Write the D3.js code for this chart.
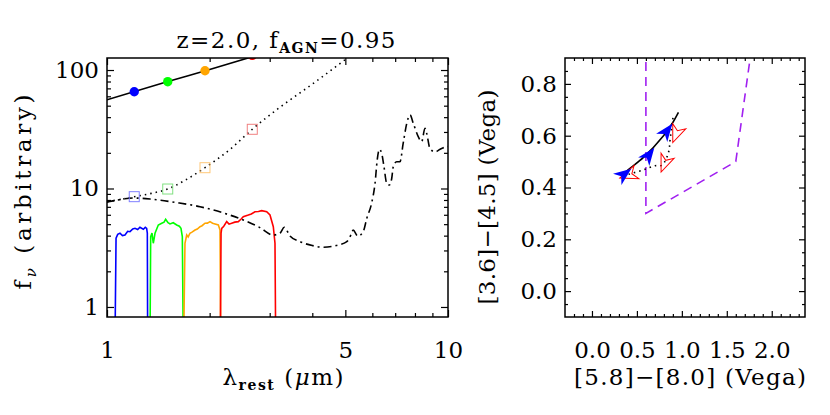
<!DOCTYPE html>
<html>
<head>
<meta charset="utf-8">
<script src="https://cdn.jsdelivr.net/npm/d3@7"></script>
<style>
  body { margin: 0; background: #fff; }
  text { font-family: "DejaVu Serif", serif; fill: #000; }
</style>
</head>
<body>
<svg id="chart" width="830" height="415"></svg>
<script>
// ---- left panel: SED in the rest frame ----
const bandWave = [1.202, 1.507, 1.938, 2.667];
const bandColors = ["#0000ff", "#00ff00", "#ffa500", "#ff0000"];
const squareColors = ["#8080ff", "#80e080", "#ffc878", "#f08080"];
const solidBandFlux = [65.6, 79.7, 98.6, 133];
const dottedBandFlux = [8.53, 9.9, 14.98, 31.6];

const solidSED = [[1.0, 56], [1.5, 79.5], [2.0, 101], [2.8, 135]];
const dottedSED = [[1.0, 7.7], [1.1, 8.1], [1.202, 8.53], [1.35, 9.1], [1.507, 9.9], [1.7, 11.8],
  [1.938, 14.98], [2.3, 21.5], [2.667, 31.6], [3.2, 48], [4.0, 76], [5.1, 128]];
const dashDotSED = [[1.0, 7.69], [1.1, 8.1], [1.192, 8.31], [1.337, 8.15], [1.6, 7.6], [1.874, 7.02],
  [2.2, 6.2], [2.51, 5.42], [2.8, 4.7], [3.07, 4.05], [3.22, 4.21], [3.31, 4.71], [3.44, 3.97],
  [3.68, 3.56], [4.0, 3.3], [4.31, 3.19], [4.7, 3.3], [5.05, 3.56], [5.2, 4.1], [5.27, 4.46],
  [5.44, 3.97], [5.64, 4.32], [5.78, 5.61], [5.97, 7.5], [6.11, 11.07], [6.2, 17.4], [6.29, 21.4],
  [6.39, 19.8], [6.49, 15.3], [6.61, 11.07], [6.73, 10.7], [6.84, 12.2], [6.91, 15.3], [7.07, 16.8],
  [7.23, 16.8], [7.39, 24.1], [7.57, 35.5], [7.74, 41.7], [7.91, 35.5], [8.18, 27.4], [8.37, 24.8],
  [8.56, 32.2], [8.66, 29.2], [8.85, 21.8], [9.16, 20.4], [9.58, 21.8], [10.0, 22.6]];

const filterBlue = [[1.0555, 0.5], [1.063, 3.8], [1.075, 4.1], [1.0917, 4.19], [1.11, 4.0], [1.129, 4.05],
  [1.15, 4.35], [1.168, 4.32], [1.19, 4.55], [1.208, 4.61], [1.23, 4.5], [1.249, 4.71],
  [1.278, 4.53], [1.295, 4.7], [1.307, 4.61], [1.313, 4.2], [1.316, 0.5]];
const filterGreen = [[1.337, 0.5], [1.343, 3.92], [1.355, 4.2], [1.367, 3.45], [1.383, 4.19],
  [1.414, 4.92], [1.447, 5.09], [1.47, 5.2], [1.486, 5.5], [1.51, 5.15], [1.530, 5.02],
  [1.564, 5.14], [1.601, 4.92], [1.63, 4.8], [1.648, 4.61], [1.663, 3.92], [1.674, 0.5]];
const filterOrange = [[1.678, 0.5], [1.693, 3.45], [1.713, 4.05], [1.73, 3.9], [1.751, 4.19],
  [1.78, 4.3], [1.812, 4.46], [1.84, 4.55], [1.874, 4.76], [1.9, 4.85], [1.938, 5.09],
  [1.97, 5.1], [2.005, 5.25], [2.04, 5.1], [2.074, 5.02], [2.121, 4.92], [2.145, 4.46], [2.155, 0.5]];
const filterRed = [[2.150, 0.5], [2.160, 4.2], [2.170, 4.61], [2.2, 4.8], [2.244, 5.25], [2.28, 5.0],
  [2.321, 5.09], [2.37, 5.2], [2.427, 5.25], [2.47, 5.5], [2.510, 5.78], [2.597, 5.97],
  [2.65, 6.1], [2.716, 6.37], [2.78, 6.4], [2.842, 6.50], [2.940, 6.37], [3.006, 5.97],
  [3.074, 4.76], [3.109, 3.45], [3.124, 0.5]];
const filters = [filterBlue, filterGreen, filterOrange, filterRed];

const leftXTicks = [1, 5, 10];
const leftXMinor = [2, 3, 4, 6, 7, 8, 9];
const leftYTicks = [1, 10, 100];
const leftYMinor = [2, 3, 4, 5, 6, 7, 8, 9, 20, 30, 40, 50, 60, 70, 80, 90];

// ---- right panel: colour-colour tracks ----
const wedge = [[0.6, 1.0], [0.6, 0.3], [1.6, 0.5], [2.0, 1.5]];
const solidTrack = [[0.33, 0.440], [0.37, 0.458], [0.573, 0.516], [0.796, 0.600], [0.889, 0.645], [0.962, 0.690]];
const solidArrows = [[0.34, 0.447], [0.62, 0.52], [0.82, 0.612]];
const dottedTrack = [[0.407, 0.451], [0.573, 0.468], [0.703, 0.484], [0.778, 0.486], [0.851, 0.535],
  [0.87, 0.587], [0.907, 0.684]];
const dottedArrows = [[0.426, 0.451], [0.814, 0.499], [0.944, 0.613]];

const rightXTicks = [0, 0.5, 1.0, 1.5, 2.0];
const rightYTicks = [0, 0.2, 0.4, 0.6, 0.8];

const svg = d3.select("#chart");
const fs = 23;

// scales
const xL = d3.scaleLog().domain([1, 10]).range([107, 448]);
const yL = d3.scaleLog().domain([0.823, 126.3]).range([317, 58]);
const xR = d3.scaleLinear().domain([-0.3, 2.37]).range([565, 805]);
const yR = d3.scaleLinear().domain([-0.1, 0.9]).range([317, 58]);

const defs = svg.append("defs");
defs.append("clipPath").attr("id", "clipL").append("rect")
  .attr("x", 107).attr("y", 58).attr("width", 341).attr("height", 259);
defs.append("clipPath").attr("id", "clipR").append("rect")
  .attr("x", 565).attr("y", 58).attr("width", 240).attr("height", 259);

function tickAxes(x, y, xMaj, xMin, yMaj, yMin, majLen, minLen, xFmt, yFmt) {
  const [x0, x1] = x.range();
  const [y0, y1] = y.range();
  const groups = [
    [d3.axisBottom(x).tickValues(xMaj).tickSize(-majLen).tickPadding(25).tickFormat(xFmt), `translate(0,${y0})`],
    [d3.axisBottom(x).tickValues(xMin).tickSize(-minLen).tickFormat(""), `translate(0,${y0})`],
    [d3.axisTop(x).tickValues(xMaj).tickSize(-majLen).tickFormat(""), `translate(0,${y1})`],
    [d3.axisTop(x).tickValues(xMin).tickSize(-minLen).tickFormat(""), `translate(0,${y1})`],
    [d3.axisLeft(y).tickValues(yMaj).tickSize(-majLen).tickPadding(8).tickFormat(yFmt), `translate(${x0},0)`],
    [d3.axisLeft(y).tickValues(yMin).tickSize(-minLen).tickFormat(""), `translate(${x0},0)`],
    [d3.axisRight(y).tickValues(yMaj).tickSize(-majLen).tickFormat(""), `translate(${x1},0)`],
    [d3.axisRight(y).tickValues(yMin).tickSize(-minLen).tickFormat(""), `translate(${x1},0)`]
  ];
  groups.forEach(([ax, tr]) => {
    const g = svg.append("g").attr("transform", tr).call(ax);
    g.select(".domain").remove();
    g.selectAll("line").attr("stroke", "#000").attr("stroke-width", 1.2);
    g.selectAll("text").style("font-family", '"DejaVu Serif", serif').style("font-size", fs + "px").attr("fill", "#000");
  });
  svg.append("rect").attr("x", x0).attr("y", y1).attr("width", x1 - x0).attr("height", y0 - y1)
    .attr("fill", "none").attr("stroke", "#000").attr("stroke-width", 1.5);
}

// ---------- left panel ----------
const lineL = d3.line().x(d => xL(d[0])).y(d => yL(d[1])).curve(d3.curveMonotoneX);
const plotL = svg.append("g").attr("clip-path", "url(#clipL)");

filters.forEach((f, i) => {
  plotL.append("path").datum(f).attr("d", d3.line().x(d => xL(d[0])).y(d => yL(d[1])))
    .attr("fill", "none").attr("stroke", bandColors[i]).attr("stroke-width", 1.6);
});

plotL.append("path").datum(solidSED).attr("d", lineL)
  .attr("fill", "none").attr("stroke", "#000").attr("stroke-width", 1.6);
plotL.append("path").datum(dottedSED).attr("d", lineL)
  .attr("fill", "none").attr("stroke", "#000").attr("stroke-width", 1.6)
  .attr("stroke-dasharray", "1.5,4");
plotL.append("path").datum(dashDotSED).attr("d", lineL)
  .attr("fill", "none").attr("stroke", "#000").attr("stroke-width", 1.6)
  .attr("stroke-dasharray", "8,4,2,4");

plotL.selectAll("circle.band").data(bandWave).enter().append("circle")
  .attr("cx", d => xL(d)).attr("cy", (d, i) => yL(solidBandFlux[i])).attr("r", 4.7)
  .attr("fill", (d, i) => bandColors[i]);
plotL.selectAll("rect.band").data(bandWave).enter().append("rect")
  .attr("x", d => xL(d) - 5).attr("y", (d, i) => yL(dottedBandFlux[i]) - 5)
  .attr("width", 10).attr("height", 10)
  .attr("fill", "none").attr("stroke", (d, i) => squareColors[i]).attr("stroke-width", 1);

tickAxes(xL, yL, leftXTicks, leftXMinor, leftYTicks, leftYMinor, 7, 4, d3.format("d"), d3.format("d"));

// title
const title = svg.append("text").attr("x", 286).attr("y", 48).attr("text-anchor", "middle")
  .style("font-size", "23px").attr("textLength", 219).attr("lengthAdjust", "spacing");
title.append("tspan").text("z=2.0,  f");
title.append("tspan").attr("dy", 5).style("font-size", "14px").style("font-weight", "bold").text("AGN");
title.append("tspan").attr("dy", -5).text("=0.95");

// x label
const xlabL = svg.append("text").attr("x", 283).attr("y", 385).attr("text-anchor", "middle")
  .style("font-size", fs + "px").attr("textLength", 121).attr("lengthAdjust", "spacing");
xlabL.append("tspan").text("λ");
xlabL.append("tspan").attr("dy", 5).style("font-size", "14px").style("font-weight", "bold").text("rest");
xlabL.append("tspan").attr("dy", -5).text("  (");
xlabL.append("tspan").style("font-style", "italic").text("μ");
xlabL.append("tspan").text("m)");

// y label
const ylabL = svg.append("text").attr("transform", "translate(31,192) rotate(-90)")
  .attr("text-anchor", "middle").style("font-size", fs + "px")
  .attr("textLength", 195).attr("lengthAdjust", "spacing");
ylabL.append("tspan").text("f");
ylabL.append("tspan").attr("dy", 5).style("font-size", "15px").style("font-style", "italic").text("ν");
ylabL.append("tspan").attr("dy", -5).text("  (arbitrary)");

// ---------- right panel ----------
const lineR = d3.line().x(d => xR(d[0])).y(d => yR(d[1]));
const plotR = svg.append("g").attr("clip-path", "url(#clipR)");

plotR.append("path").datum(wedge).attr("d", lineR)
  .attr("fill", "none").attr("stroke", "#a020f0").attr("stroke-width", 1.6)
  .attr("stroke-dasharray", "9,6");

plotR.append("path").datum(dottedTrack).attr("d", lineR.curve(d3.curveCatmullRom))
  .attr("fill", "none").attr("stroke", "#000").attr("stroke-width", 1.6)
  .attr("stroke-dasharray", "1.5,4");
plotR.append("path").datum(solidTrack).attr("d", lineR.curve(d3.curveCatmullRom))
  .attr("fill", "none").attr("stroke", "#000").attr("stroke-width", 1.6);

function arrowPath(L, W) {
  return `M${L},0 L${-L * 0.6},${W / 2} L${-L * 0.15},0 L${-L * 0.6},${-W / 2} Z`;
}
function arrowAngle(pts, i) {
  const a = pts[i === pts.length - 1 ? i - 1 : i];
  const b = pts[i === pts.length - 1 ? i : i + 1];
  return Math.atan2(yR(b[1]) - yR(a[1]), xR(b[0]) - xR(a[0])) * 180 / Math.PI;
}

plotR.selectAll("path.red").data(dottedArrows).enter().append("path")
  .attr("d", arrowPath(11, 14))
  .attr("transform", (d, i) => `translate(${xR(d[0])},${yR(d[1])}) rotate(${arrowAngle(dottedArrows, i) + 180})`)
  .attr("fill", "none").attr("stroke", "#ff0000").attr("stroke-width", 1);
plotR.selectAll("path.blue").data(solidArrows).enter().append("path")
  .attr("d", arrowPath(11, 14))
  .attr("transform", (d, i) => `translate(${xR(d[0])},${yR(d[1])}) rotate(${arrowAngle(solidArrows, i)})`)
  .attr("fill", "#0000ff");

tickAxes(xR, yR, rightXTicks, d3.range(-0.2, 2.35, 0.1).filter(v => Math.abs(v * 2 - Math.round(v * 2)) > 0.01),
  rightYTicks, d3.range(-0.05, 0.9, 0.05).filter(v => Math.abs(v * 5 - Math.round(v * 5)) > 0.01),
  6, 3, d3.format(".1f"), d3.format(".1f"));

svg.append("text").attr("x", 690).attr("y", 385).attr("text-anchor", "middle")
  .style("font-size", fs + "px").attr("textLength", 232).attr("lengthAdjust", "spacing")
  .text("[5.8]−[8.0]  (Vega)");
svg.append("text").attr("transform", "translate(495,197) rotate(-90)")
  .attr("text-anchor", "middle").style("font-size", fs + "px")
  .attr("textLength", 215).attr("lengthAdjust", "spacing")
  .text("[3.6]−[4.5]  (Vega)");
</script>
</body>
</html>
